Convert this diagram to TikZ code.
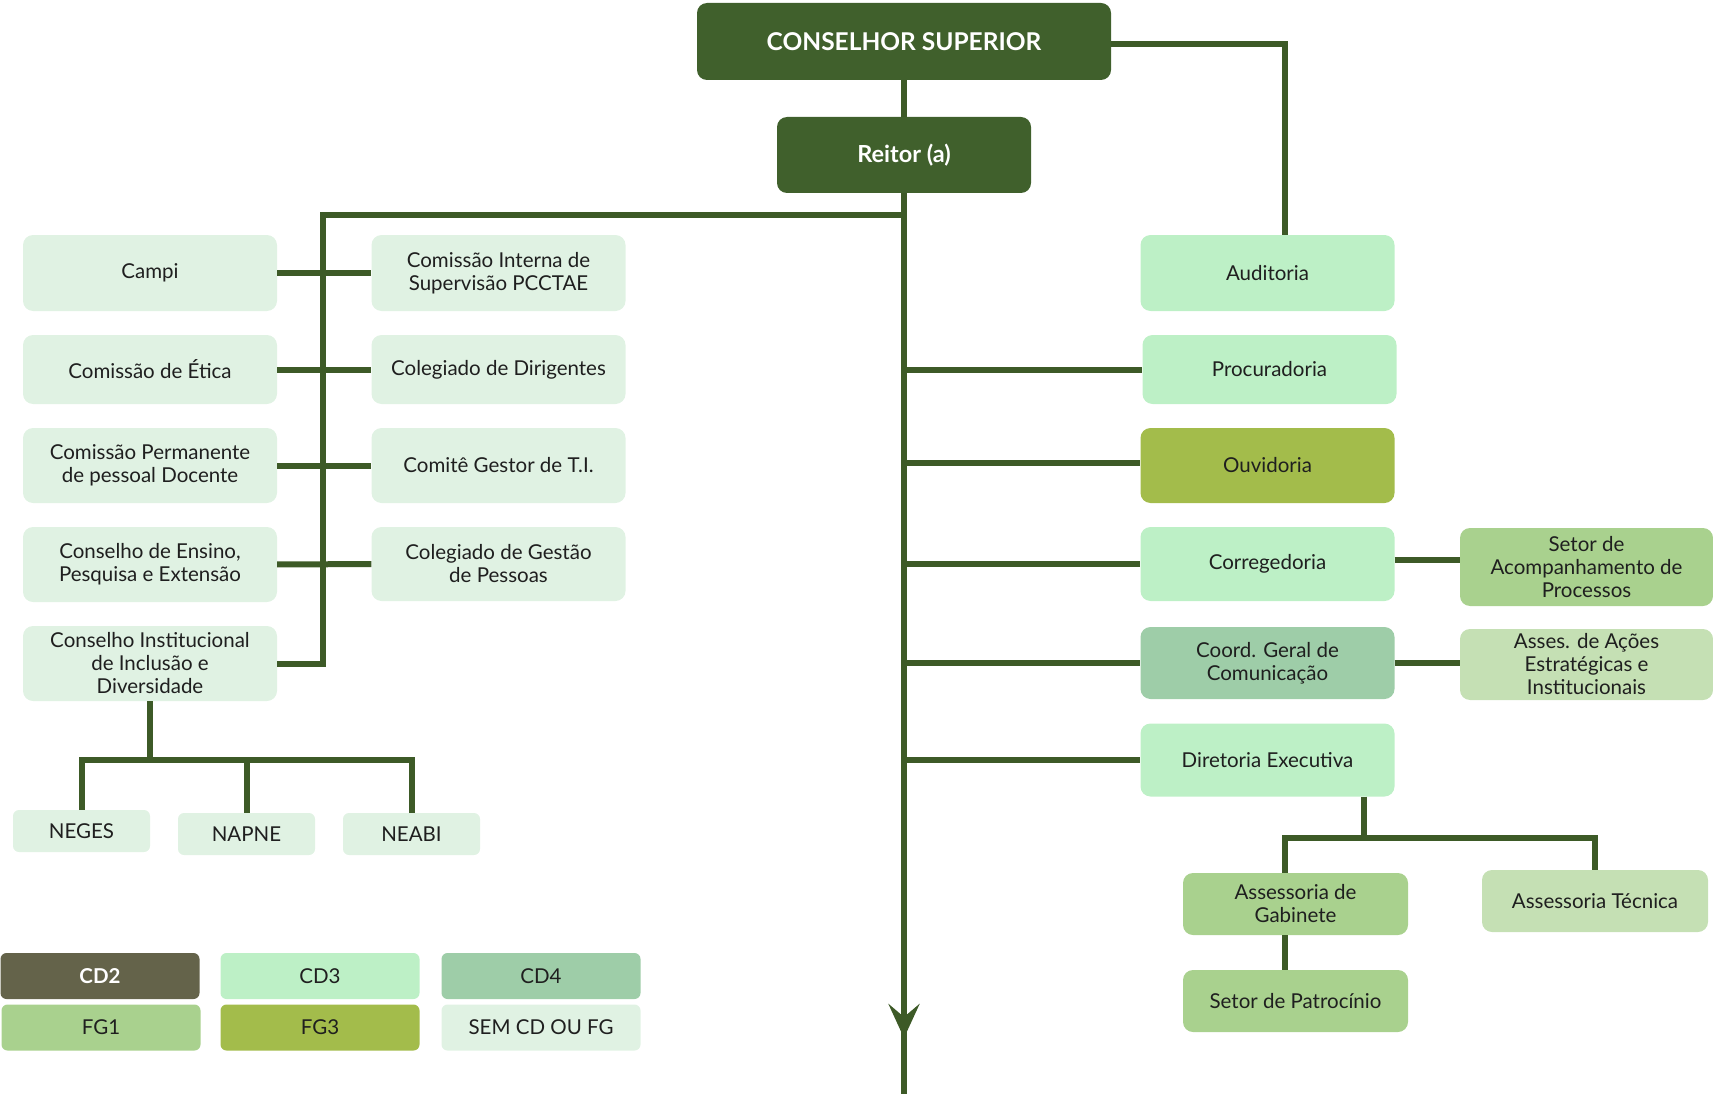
\documentclass[tikz,border=0pt]{standalone}
\usepackage{fontspec}
\setmainfont{Lato}
\usetikzlibrary{arrows.meta}

\definecolor{verdeescuro}{HTML}{40602C}
\definecolor{verdelinha}{HTML}{3D5A27}
\definecolor{corcdd}{HTML}{64634A}
\definecolor{corcdt}{HTML}{BDF0C6}
\definecolor{corcdq}{HTML}{9ECDA8}
\definecolor{corfgu}{HTML}{A9D18E}
\definecolor{corfgt}{HTML}{A3BC4B}
\definecolor{corsem}{HTML}{E0F2E3}
\definecolor{corasses}{HTML}{C5E0B4}

\begin{document}
\begin{tikzpicture}[
  x=1pt, y=-1pt,
  every node/.style={
    align=center,
    rounded corners=10pt,
    inner sep=1pt,
    text=black!88,
    font=\fontsize{20.5}{23}\selectfont,
  },
  chefia/.style={fill=verdeescuro, text=white, font=\bfseries\fontsize{24.5}{28}\selectfont},
  cdtres/.style={fill=corcdt},
  cdquatro/.style={fill=corcdq},
  fgum/.style={fill=corfgu},
  fgtres/.style={fill=corfgt},
  semcdfg/.style={fill=corsem},
  assesfill/.style={fill=corasses},
  coluna/.style={minimum width=254pt, minimum height=75pt},
  nucleo/.style={semcdfg, rounded corners=6pt, minimum width=137pt, minimum height=42pt},
  legenda/.style={rounded corners=6pt, minimum width=199pt, minimum height=46pt},
  ligacao/.style={draw=verdelinha, line width=6pt},
  ]
  \useasboundingbox (0,0) rectangle (1713,1094);

  % topo
  \node[chefia, minimum width=414pt, minimum height=77pt] (cons) at (904,41.5) {CONSELHOR SUPERIOR};
  \node[chefia, font=\bfseries\fontsize{23.5}{27}\selectfont, minimum width=254pt, minimum height=76pt]
    (reitor) at (904,155) {Reitor (a)};

  % coluna esquerda
  \node[semcdfg, coluna, minimum height=76pt] (campi) at (150,273) {Campi};
  \node[semcdfg, coluna, minimum height=69pt] (etica) at (150,369.5) {Comissão de Ética};
  \node[semcdfg, coluna] (cppd) at (150,465.5) {Comissão Permanente\\de pessoal Docente};
  \node[semcdfg, coluna] (cepe) at (150,564.5) {Conselho de Ensino,\\Pesquisa e Extensão};
  \node[semcdfg, coluna] (ciid) at (150,663.5) {Conselho Institucional\\de Inclusão e\\Diversidade};

  \node[semcdfg, coluna, minimum height=76pt] (cis) at (498.5,273) {Comissão Interna de\\Supervisão PCCTAE};
  \node[semcdfg, coluna, minimum height=69pt] (coldir) at (498.5,369.5) {Colegiado de Dirigentes};
  \node[semcdfg, coluna] (cgti) at (498.5,465.5) {Comitê Gestor de T.I.};
  \node[semcdfg, coluna, minimum height=74pt] (cggp) at (498.5,564) {Colegiado de Gestão\\de Pessoas};

  % nucleos
  \node[nucleo] (neges) at (81.5,831) {NEGES};
  \node[nucleo] (napne) at (246.5,834) {NAPNE};
  \node[nucleo] (neabi) at (411.5,834) {NEABI};

  % coluna direita
  \node[cdtres, coluna, minimum height=76pt] (audit) at (1267.5,273) {Auditoria};
  \node[cdtres, coluna, minimum height=69pt] (proc) at (1269.5,369.5) {Procuradoria};
  \node[fgtres, coluna] (ouv) at (1267.5,465.5) {Ouvidoria};
  \node[cdtres, coluna, minimum height=74pt] (correg) at (1267.5,564) {Corregedoria};
  \node[cdquatro, coluna, minimum height=72pt] (coord) at (1267.5,663) {Coord. Geral de\\Comunicação};
  \node[cdtres, coluna, minimum height=73pt] (direx) at (1267.5,760) {Diretoria Executiva};

  \node[fgum, coluna, minimum width=253pt, minimum height=78pt] (sap) at (1586.5,567)
    {Setor de\\Acompanhamento de\\Processos};
  \node[assesfill, coluna, minimum width=253pt, minimum height=71pt] (aaei) at (1586.5,664.5)
    {Asses. de Ações\\Estratégicas e\\Institucionais};

  \node[fgum, minimum width=225pt, minimum height=62pt] (gab) at (1295.5,904) {Assessoria de\\Gabinete};
  \node[assesfill, minimum width=226pt, minimum height=62pt] (tec) at (1595,901) {Assessoria Técnica};
  \node[fgum, minimum width=225pt, minimum height=62pt] (patro) at (1295.5,1001) {Setor de Patrocínio};

  % legenda
  \node[legenda, fill=corcdd, text=white, font=\bfseries\fontsize{20.5}{23}\selectfont] (lcdd) at (100,976) {CD2};
  \node[legenda, cdtres] (lcdt) at (320,976) {CD3};
  \node[legenda, cdquatro] (lcdq) at (541,976) {CD4};
  \node[legenda, fgum] (lfgu) at (101,1027.5) {FG1};
  \node[legenda, fgtres] (lfgt) at (320,1027.5) {FG3};
  \node[legenda, semcdfg] (lsem) at (541,1027.5) {SEM CD OU FG};

  % ligacoes
  \coordinate (fimtronco) at (904,1094);
  \coordinate (ponta) at (904,1038);
  \coordinate (barraesq) at (323,215);
  \coordinate (barranuc) at (150,760);
  \coordinate (barradir) at (1364,838);

  \draw[ligacao] (reitor) -- (fimtronco);
  \draw[ligacao, -{Stealth[length=34pt, width=31pt, inset=13pt]}] (reitor) -- (ponta);
  \draw[ligacao] ([yshift=-3pt]cons.east) -| ([xshift=17pt]audit.north);
  \draw[ligacao] (reitor.south |- barraesq) -- (barraesq) |- (ciid.east);

  \path[ligacao]
  (cons) edge (reitor)
  (campi) edge (cis)
  (etica) edge (coldir)
  (cppd) edge (cgti)
  (cepe) edge (cggp)
  (proc.west -| reitor.south) edge (proc.west)
  ([yshift=3pt]ouv.west -| reitor.south) edge ([yshift=3pt]ouv.west)
  (correg.west -| reitor.south) edge (correg.west)
  (coord.west -| reitor.south) edge (coord.west)
  (direx.west -| reitor.south) edge (direx.west)
  ([yshift=4pt]correg.east) edge ([yshift=4pt]correg.east -| sap.west)
  (coord.east) edge (coord.east -| aaei.west);

  \draw[ligacao] (ciid) -- (barranuc);
  \draw[ligacao] (neges) |- (barranuc) -| (neabi);
  \draw[ligacao] (napne) -- (napne |- barranuc);

  \draw[ligacao] (direx.south -| barradir) -- (barradir);
  \draw[ligacao] ([xshift=-11pt]gab.north) |- (barradir) -| (tec.north);
  \draw[ligacao] ([xshift=-11pt]gab.south) -- ([xshift=-11pt]patro.north);
\end{tikzpicture}
\end{document}
